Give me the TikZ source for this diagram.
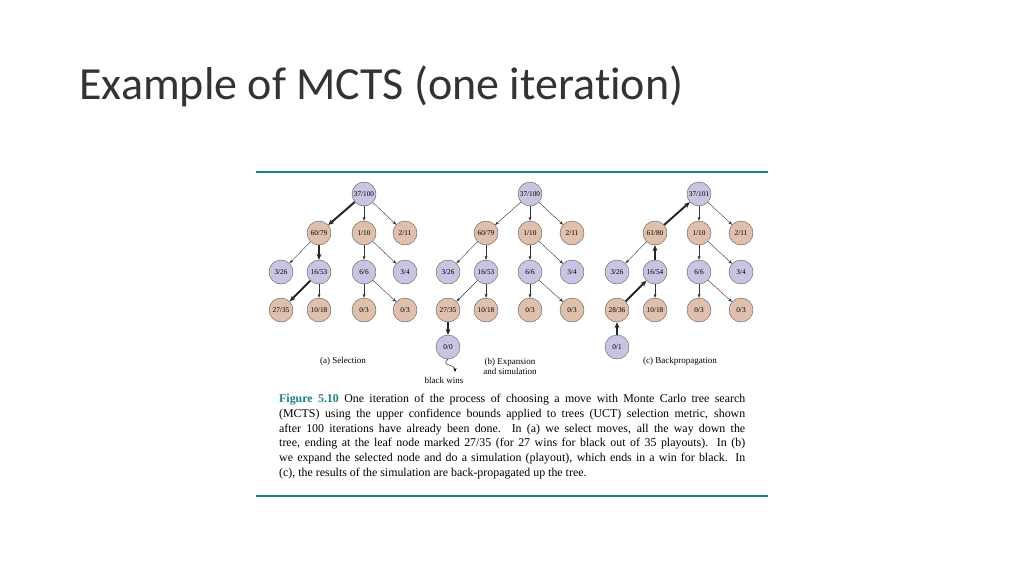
\documentclass[tikz,border=0pt]{standalone}
\usepackage{fontspec}
\setmainfont{Liberation Serif}
\newfontfamily\titlefont[Ligatures=NoCommon]{Carlito}
\usetikzlibrary{arrows.meta,decorations.pathmorphing}
\definecolor{purp}{RGB}{200,196,226}
\definecolor{tan}{RGB}{222,192,172}
\definecolor{rule}{RGB}{30,128,132}
\tikzset{
  mnode/.style={draw=gray!70!black,circle,minimum size=24pt,inner sep=0pt,font=\fontsize{7.3}{8}\selectfont},
  pn/.style={mnode,fill=purp},
  tn/.style={mnode,fill=tan},
  edge/.style={-{Stealth[length=4pt,width=3pt]},thin,black!80},
  hot/.style={-{Stealth[length=6pt,width=5pt]},line width=2pt,black!85},
  lab/.style={font=\fontsize{9}{10}\selectfont}
}
\begin{document}
\begin{tikzpicture}[x=1pt,y=-1pt]
  \useasboundingbox (0,0) rectangle (1024,576);
  \node[anchor=west,font=\titlefont\fontsize{46}{52}\selectfont,color=black!80] (title) at (76,86) {Example of MCTS (one iteration)};
  \draw[rule,line width=2pt] (256,172) -- (768,172);
  \draw[rule,line width=2pt] (256,496) -- (768,496);
  % (a) selection
  \node[pn] (aR) at (364,194) {37/100};
  \node[tn] (aA) at (319,233) {60/79};
  \node[tn] (aB) at (364,233) {1/10};
  \node[tn] (aC) at (405,233) {2/11};
  \node[pn] (aD) at (281,272) {3/26};
  \node[pn] (aE) at (319,272) {16/53};
  \node[pn] (aF) at (364,272) {6/6};
  \node[pn] (aG) at (405,272) {3/4};
  \node[tn] (aH) at (281,310) {27/35};
  \node[tn] (aI) at (319,310) {10/18};
  \node[tn] (aJ) at (364,310) {0/3};
  \node[tn] (aK) at (405,310) {0/3};
  \draw[hot] (aR) -- (aA);
  \draw[edge] (aR) -- (aB);
  \draw[edge] (aR) -- (aC);
  \draw[edge] (aA) -- (aD);
  \draw[hot] (aA) -- (aE);
  \draw[edge] (aB) -- (aF);
  \draw[edge] (aB) -- (aG);
  \draw[hot] (aE) -- (aH);
  \draw[edge] (aE) -- (aI);
  \draw[edge] (aF) -- (aJ);
  \draw[edge] (aF) -- (aK);
  \node[lab] (aL) at (343,361) {(a) Selection};
  % (b) expansion and simulation
  \node[pn] (bR) at (530,194) {37/100};
  \node[tn] (bA) at (486,233) {60/79};
  \node[tn] (bB) at (530,233) {1/10};
  \node[tn] (bC) at (572,233) {2/11};
  \node[pn] (bD) at (448,272) {3/26};
  \node[pn] (bE) at (486,272) {16/53};
  \node[pn] (bF) at (530,272) {6/6};
  \node[pn] (bG) at (572,272) {3/4};
  \node[tn] (bH) at (448,310) {27/35};
  \node[tn] (bI) at (486,310) {10/18};
  \node[tn] (bJ) at (530,310) {0/3};
  \node[tn] (bK) at (572,310) {0/3};
  \node[pn] (bS) at (448,347) {0/0};
  \draw[edge] (bR) -- (bA);
  \draw[edge] (bR) -- (bB);
  \draw[edge] (bR) -- (bC);
  \draw[edge] (bA) -- (bD);
  \draw[edge] (bA) -- (bE);
  \draw[edge] (bB) -- (bF);
  \draw[edge] (bB) -- (bG);
  \draw[edge] (bE) -- (bH);
  \draw[edge] (bE) -- (bI);
  \draw[edge] (bF) -- (bJ);
  \draw[edge] (bF) -- (bK);
  \draw[hot] (bH) -- (bS);
  \node[lab] (bW) at (444,380) {black wins};
  \coordinate (bWend) at (455,372);
  \draw[-{Stealth[length=4pt,width=3pt]},thin] (bS.south) .. controls (440,366) and (455,364) .. (bWend);
  \node[lab,align=center] (bL) at (510,366) {(b) Expansion\\and simulation};
  % (c) backpropagation
  \node[pn] (cR) at (699,194) {37/101};
  \node[tn] (cA) at (655,233) {61/80};
  \node[tn] (cB) at (699,233) {1/10};
  \node[tn] (cC) at (741,233) {2/11};
  \node[pn] (cD) at (617,272) {3/26};
  \node[pn] (cE) at (655,272) {16/54};
  \node[pn] (cF) at (699,272) {6/6};
  \node[pn] (cG) at (741,272) {3/4};
  \node[tn] (cH) at (617,310) {28/36};
  \node[tn] (cI) at (655,310) {10/18};
  \node[tn] (cJ) at (699,310) {0/3};
  \node[tn] (cK) at (741,310) {0/3};
  \node[pn] (cS) at (617,347) {0/1};
  \draw[hot] (cA) -- (cR);
  \draw[edge] (cR) -- (cB);
  \draw[edge] (cR) -- (cC);
  \draw[edge] (cA) -- (cD);
  \draw[hot] (cE) -- (cA);
  \draw[edge] (cB) -- (cF);
  \draw[edge] (cB) -- (cG);
  \draw[hot] (cH) -- (cE);
  \draw[edge] (cE) -- (cI);
  \draw[edge] (cF) -- (cJ);
  \draw[edge] (cF) -- (cK);
  \draw[hot] (cS) -- (cH);
  \node[lab] (cL) at (680,361) {(c) Backpropagation};
  % caption
  \node[anchor=north west,text width=466pt,align=justify,inner sep=0pt,font=\fontsize{11.9}{14.8}\selectfont] (cap) at (279,394)
    {\textcolor{rule}{\textbf{Figure 5.10}} One iteration of the process of choosing a move with Monte Carlo tree search\linebreak
    (MCTS) using the upper confidence bounds applied to trees (UCT) selection metric, shown\linebreak
    after 100 iterations have already been done. In (a) we select moves, all the way down the\linebreak
    tree, ending at the leaf node marked 27/35 (for 27 wins for black out of 35 playouts). In (b)\linebreak
    we expand the selected node and do a simulation (playout), which ends in a win for black. In\linebreak
    (c), the results of the simulation are back-propagated up the tree.};
\end{tikzpicture}
\end{document}
